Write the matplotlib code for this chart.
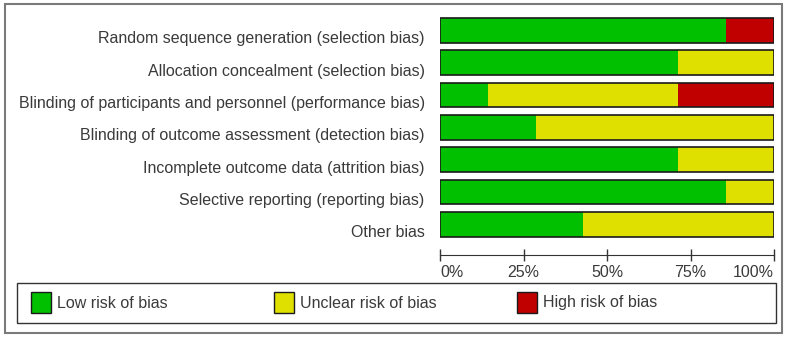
import numpy as np
import matplotlib.pyplot as plt
import matplotlib.transforms as mtransforms
from matplotlib.patches import Rectangle

# ===================== Data =====================
domains = ["Random sequence generation (selection bias)",
           "Allocation concealment (selection bias)",
           "Blinding of participants and personnel (performance bias)",
           "Blinding of outcome assessment (detection bias)",
           "Incomplete outcome data (attrition bias)",
           "Selective reporting (reporting bias)",
           "Other bias"]
low_risk = [85.7, 71.4, 14.3, 28.6, 71.4, 85.7, 42.9]
unclear_risk = [0.0, 28.6, 57.1, 71.4, 28.6, 14.3, 57.1]
high_risk = [14.3, 0.0, 28.6, 0.0, 0.0, 0.0, 0.0]
risk_names = ["Low risk of bias", "Unclear risk of bias", "High risk of bias"]
risk_colors = ["#00C000", "#E0E000", "#C00000"]
xticks = [0, 25, 50, 75, 100]
xtick_labels = ["0%", "25%", "50%", "75%", "100%"]

W, H = 789, 337
TXT = "#3a3a3a"
FS = 11.5
plt.rcParams["font.family"] = ["Liberation Sans", "DejaVu Sans"]

fig = plt.figure(figsize=(W / 100, H / 100), dpi=100)

# outer frame
fig.patches.append(Rectangle((5 / W, 4 / H), 777 / W, 329 / H, transform=fig.transFigure,
                             fill=False, edgecolor="#7a7a7a", linewidth=1.5))

# bars axes: x 440..774 px, y 12..255 px
ax = fig.add_axes([440 / W, 1 - 255 / H, 334 / W, 243 / H])
y = np.arange(len(domains))
series = [np.array(low_risk), np.array(unclear_risk), np.array(high_risk)]
left = np.zeros(len(domains))
for vals, col in zip(series, risk_colors):
    ax.barh(y, vals, left=left, height=0.77, color=col, linewidth=0)
    left = left + vals
ax.barh(y, left, height=0.77, fill=False, edgecolor="#1a1a1a", linewidth=1.2)

ax.set_xlim(0, 100)
ax.set_ylim(6.95, -0.57)
ax.set_yticks(y)
ax.set_yticklabels(domains, fontsize=FS, color=TXT)
ax.tick_params(axis="y", left=False, pad=7.5)
# labels sit a bit lower than bar centres in the original
shift = mtransforms.ScaledTranslation(0, -5 / 72, fig.dpi_scale_trans)
for lab in ax.get_yticklabels():
    lab.set_transform(lab.get_transform() + shift)
ax.set_xticks(xticks)
ax.set_xticklabels(xtick_labels, fontsize=FS, color=TXT)
labels = ax.get_xticklabels()
labels[0].set_horizontalalignment("left")
labels[-1].set_horizontalalignment("right")
ax.tick_params(axis="x", direction="inout", length=9, width=1, color="#333333", pad=3)
for s in ["top", "left", "right"]:
    ax.spines[s].set_visible(False)
ax.spines["bottom"].set_color("#333333")
ax.patch.set_alpha(0)

# legend box
fig.patches.append(Rectangle((17 / W, 1 - 323 / H), 759 / W, 40 / H, transform=fig.transFigure,
                             fill=False, edgecolor="#333333", linewidth=1))
for i, (name, col) in enumerate(zip(risk_names, risk_colors)):
    x0 = 31 + i * 243
    fig.patches.append(Rectangle((x0 / W, 1 - 313 / H), 20 / W, 21 / H, transform=fig.transFigure,
                                 facecolor=col, edgecolor="#1a1a1a", linewidth=1))
    fig.text((x0 + 26) / W, 1 - 303 / H, name, fontsize=FS, color=TXT, va="center", ha="left")

fig.savefig("out.png", dpi=100)
